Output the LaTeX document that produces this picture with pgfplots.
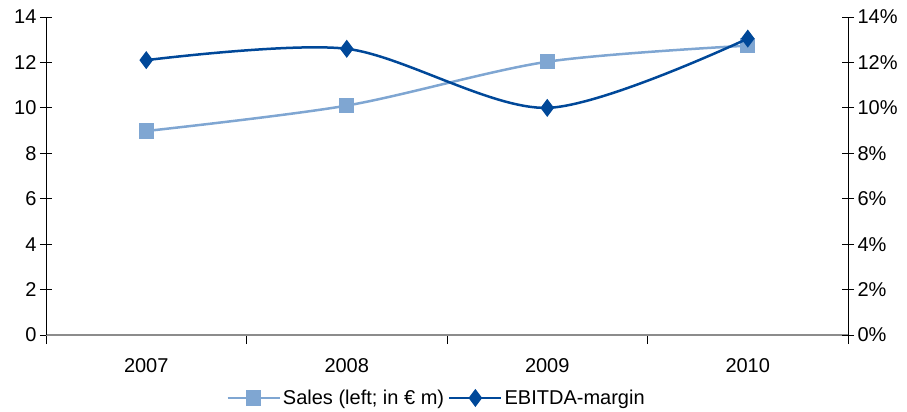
\documentclass[border=0pt]{standalone}
\usepackage{pgfplots}
\pgfplotsset{compat=1.18}
\usepackage{fontspec}
\setmainfont{Liberation Sans}
\definecolor{salesblue}{RGB}{127,166,210}
\definecolor{marginblue}{RGB}{0,72,153}

% Sales in EUR m (left axis)
\pgfplotstableread{
x y
0 8.98
1 10.10
2 12.03
3 12.74
}\sales
% EBITDA margin in % (right axis)
\pgfplotstableread{
x y
0 12.10
1 12.60
2 10.00
3 13.05
}\margin

\begin{document}
\begin{tikzpicture}[font=\fontsize{20}{22}\selectfont]
\pgfplotsset{
  base/.style={
    scale only axis, width=802pt, height=318pt,
    xmin=-0.5, xmax=3.5, ymin=0, ymax=14,
    ytick={0,2,...,14},
    /pgf/number format/assume math mode=true,
    ytick align=center,
    major tick length=12pt,
    minor tick length=9pt,
    tick style={black, line width=0.8pt},
    clip=false,
  },
}
\begin{axis}[base,
  axis x line*=bottom, axis y line*=left,
  x axis line style={draw=gray!90, line width=2pt},
  y axis line style={black, line width=0.8pt},
  xtick={0,1,2,3},
  xticklabels={2007,2008,2009,2010},
  minor xtick={-0.5,0.5,1.5,2.5,3.5},
  major x tick style={draw=none},
  xtick align=outside,
  xticklabel style={yshift=-8pt},
  legend style={at={(0.487,-0.198)}, anchor=center, draw=none, fill=none,
    legend columns=-1, /tikz/every even column/.append style={column sep=2pt},
    inner sep=0pt},
  legend image code/.code={\draw[mark repeat=2,mark phase=2]
    plot coordinates {(0pt,0pt)(26pt,0pt)(52pt,0pt)};},
]
\addplot[salesblue, line width=2.5pt, smooth, mark=square*, mark size=6.3pt,
  mark options={solid}] table {\sales};
\addlegendentry{Sales (left; in € m)}
\addlegendimage{marginblue, line width=2.5pt, mark=diamond*, mark size=7pt}
\addlegendentry{EBITDA-margin}
\end{axis}
\begin{axis}[base,
  axis x line=none, axis y line*=right,
  y axis line style={black, line width=0.8pt},
  yticklabel={\pgfmathprintnumber{\tick}\%},
]
\addplot[marginblue, line width=2.5pt, smooth, mark=diamond*, mark size=7pt,
  mark options={solid}] table {\margin};
\end{axis}
\pgfresetboundingbox
\path[use as bounding box] (-46pt,-77pt) rectangle (861pt,335pt);
\end{tikzpicture}
\end{document}
